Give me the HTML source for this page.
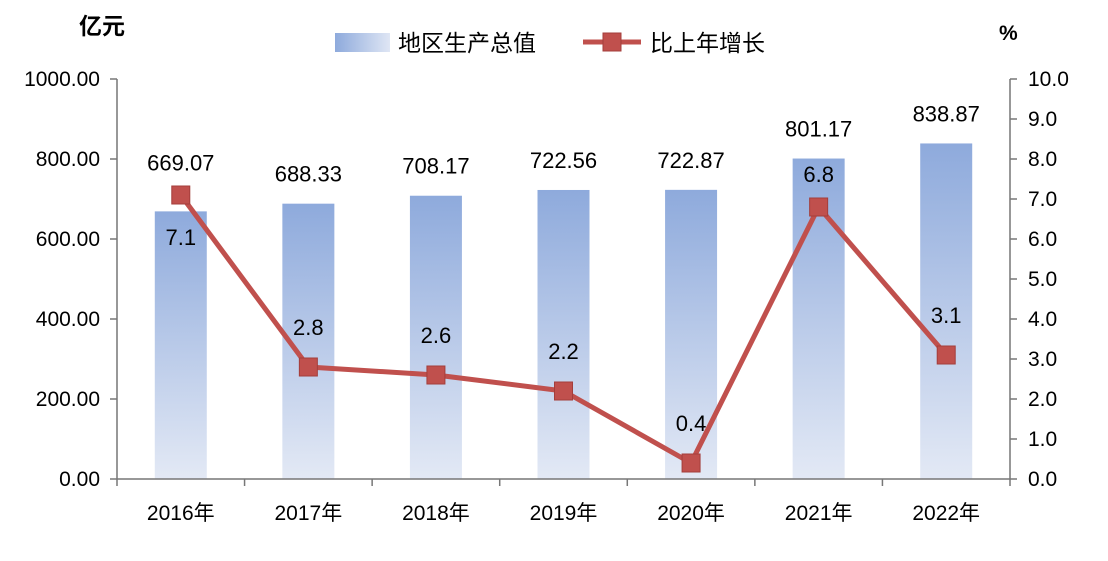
<!DOCTYPE html>
<html><head><meta charset="utf-8"><style>
body{margin:0;background:#fff}
svg text{font-family:"Liberation Sans","Noto Sans CJK SC",sans-serif;fill:#000}
</style></head><body>
<svg id="c" width="1108" height="556" xmlns="http://www.w3.org/2000/svg">
<defs><linearGradient id="g" x1="0" y1="0" x2="0" y2="1"><stop offset="0" stop-color="#8eaadc"/><stop offset="1" stop-color="#e3e9f5"/></linearGradient>
<linearGradient id="gl" x1="0" y1="0" x2="1" y2="0"><stop offset="0" stop-color="#8eaadc"/><stop offset="1" stop-color="#dfe6f4"/></linearGradient></defs>
<text x="79" y="34" font-size="23" font-weight="bold">亿元</text>
<text x="999" y="40" font-size="21" font-weight="bold">%</text>
<g>
<rect x="335" y="33" width="55" height="19" fill="url(#gl)"/>
<text x="398" y="51" font-size="23">地区生产总值</text>
<line x1="583" y1="42" x2="641" y2="42" stroke="#c0504d" stroke-width="5"/>
<rect x="603" y="33" width="18" height="18" fill="#c0504d" stroke="#a33e3b"/>
<text x="650" y="51" font-size="23">比上年增长</text>
</g>
<g id="plot"></g>
</svg>
<script>
const categories=["2016年","2017年","2018年","2019年","2020年","2021年","2022年"];
const gdpValues=[669.07,688.33,708.17,722.56,722.87,801.17,838.87];
const growthValues=[7.1,2.8,2.6,2.2,0.4,6.8,3.1];
const leftTicks=[0,200,400,600,800,1000];
const rightTicks=[0,1,2,3,4,5,6,7,8,9,10];
const NS="http://www.w3.org/2000/svg",p=document.getElementById('plot');
const X0=117,X1=1010,Y0=479,Y1=79,step=(X1-X0)/categories.length;
const yL=v=>Y0-(v/1000)*(Y0-Y1), yR=v=>Y0-(v/10)*(Y0-Y1), xc=i=>X0+step*(i+0.5);
function mk(t,a,txt){const e=document.createElementNS(NS,t);for(const k in a)e.setAttribute(k,a[k]);if(txt!=null)e.textContent=txt;p.appendChild(e);return e;}
categories.forEach((c,i)=>{
 const r=mk('rect',{x:xc(i)-26,y:yL(gdpValues[i]),width:52,height:Y0-yL(gdpValues[i]),fill:'url(#g)'});
 
 
 const off=i===0?41:22;
 const t=mk('text',{x:xc(i),y:yL(gdpValues[i])-off,'font-size':22,'text-anchor':'middle'},gdpValues[i].toFixed(2));
 
 
 const xl=mk('text',{x:xc(i),y:520,'font-size':21,'text-anchor':'middle'},c);
 
 
});
mk('line',{x1:X0,y1:Y1,x2:X0,y2:Y0,stroke:'#777','stroke-width':1.5});
mk('line',{x1:X1,y1:Y1,x2:X1,y2:Y0,stroke:'#777','stroke-width':1.5});
mk('line',{x1:X0,y1:Y0,x2:X1,y2:Y0,stroke:'#777','stroke-width':1.5});
for(let i=0;i<=categories.length;i++)mk('line',{x1:X0+step*i,y1:Y0,x2:X0+step*i,y2:Y0+7,stroke:'#777','stroke-width':1.5});
leftTicks.forEach(v=>{mk('line',{x1:X0-7,y1:yL(v),x2:X0,y2:yL(v),stroke:'#777','stroke-width':1.5});
 const t=mk('text',{x:100,y:yL(v)+7,'font-size':21,'text-anchor':'end'},v.toFixed(2));
 
 });
rightTicks.forEach(v=>{mk('line',{x1:X1,y1:yR(v),x2:X1+7,y2:yR(v),stroke:'#777','stroke-width':1.5});
 const t=mk('text',{x:1028,y:yR(v)+7,'font-size':21},v.toFixed(1));
 
 });
const line=mk('polyline',{points:growthValues.map((v,i)=>xc(i)+','+yR(v)).join(' '),fill:'none',stroke:'#c0504d','stroke-width':5,'stroke-linejoin':'round'});


growthValues.forEach((v,i)=>{
 const m=mk('rect',{x:xc(i)-9,y:yR(v)-9,width:18,height:18,fill:'#c0504d',stroke:'#a33e3b'});
 
 
 const below=i===0;
 const up=i===5?25:32;
 const t=mk('text',{x:xc(i),y:below?yR(v)+50:yR(v)-up,'font-size':22,'text-anchor':'middle'},v.toFixed(1));
 
 
});
</script>
</body></html>
